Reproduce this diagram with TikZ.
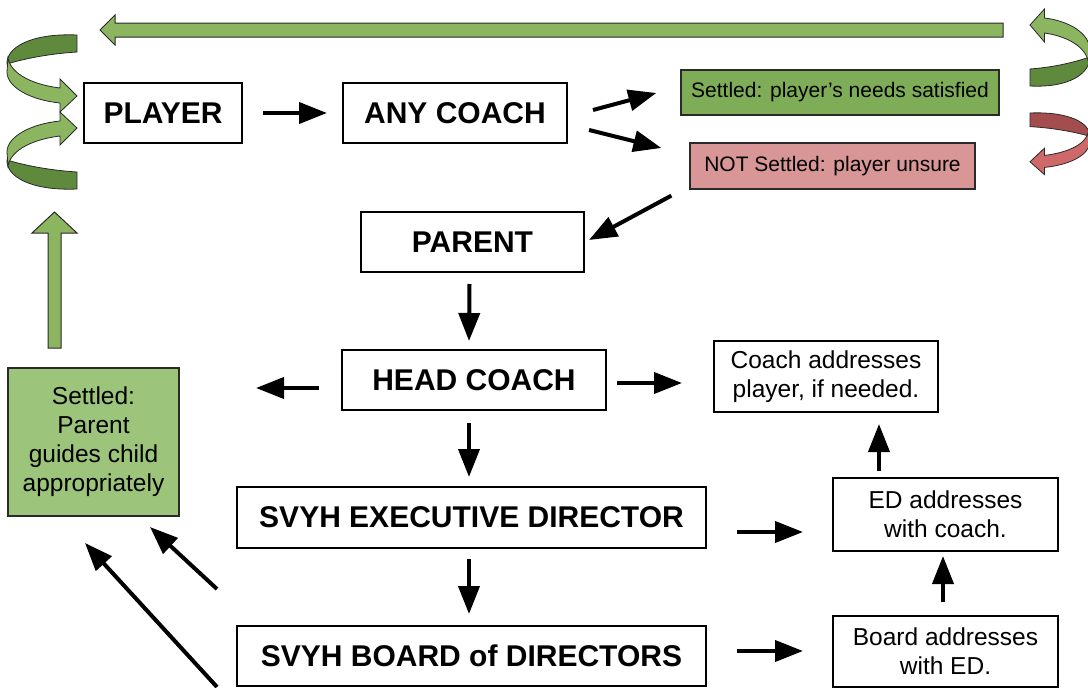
\documentclass[tikz,border=0pt]{standalone}
\usepackage{fontspec}
\setmainfont{Liberation Sans}
\usetikzlibrary{arrows.meta,calc}
\definecolor{boxgreen}{HTML}{7FAD57}
\definecolor{palegreen}{HTML}{9CC47A}
\definecolor{boxred}{HTML}{D99696}
\definecolor{arrlight}{HTML}{8BB55F}
\definecolor{arrdark}{HTML}{5F8A3D}
\definecolor{redlight}{HTML}{CF6868}
\definecolor{reddark}{HTML}{A34D4F}
\definecolor{outl}{HTML}{2A2A2A}
\newcommand{\curlshape}[2]{%
  \filldraw[fill=#1, draw=outl, line width=0.8pt] (0,0) .. controls (-47,-2) and (-71,13) .. (-70,29) .. controls (-57,25) and (-32,19) .. (0,17) -- cycle;
  \filldraw[fill=#2, draw=outl, line width=0.8pt] (-69,23) .. controls (-66,40) and (-42,50) .. (-17,53) -- (-17,44) -- (0,61) -- (-17,77) -- (-17,68) .. controls (-47,65) and (-70,52) .. (-70,37) -- cycle;
}
\tikzset{
  bigbox/.style={draw=black, line width=2pt, fill=white, inner sep=0pt, align=center, font=\fontsize{30}{34}\selectfont\bfseries},
  smallbox/.style={draw=black, line width=2pt, fill=white, inner sep=0pt, align=center, font=\fontsize{24.5}{29}\selectfont},
  tagbox/.style={draw=outl, line width=1.3pt, inner sep=0pt, align=center, font=\fontsize{21}{25}\selectfont},
  arr/.style={line width=4pt, -{Triangle[length=28pt,width=21pt]}},
  blockarrow/.style={fill=arrlight, draw=outl, line width=1pt},
}
\begin{document}
\begin{tikzpicture}[x=1pt,y=-1pt]
\useasboundingbox (0,0) rectangle (1088,688);
\fill[white] (0,0) rectangle (1088,688);

% nodes
\node[bigbox, minimum width=158pt, minimum height=60pt] (player) at (163,113) {PLAYER};
\node[bigbox, minimum width=224pt, minimum height=60pt] (anycoach) at (455,113) {ANY COACH};
\node[tagbox, fill=boxgreen, minimum width=318pt, minimum height=45pt] (settled) at (840,92.5) {Settled: player’s needs satisfied};
\node[tagbox, fill=boxred, minimum width=285pt, minimum height=46pt] (notsettled) at (832.5,166) {NOT Settled: player unsure};
\node[bigbox, minimum width=223pt, minimum height=60pt] (parent) at (472.5,242) {PARENT};
\node[bigbox, minimum width=264pt, minimum height=60pt] (headcoach) at (474,380) {HEAD COACH};
\node[bigbox, minimum width=469pt, minimum height=61pt] (exec) at (471.5,517.5) {SVYH EXECUTIVE DIRECTOR};
\node[bigbox, minimum width=469pt, minimum height=60pt] (board) at (471.5,656) {SVYH BOARD of DIRECTORS};
\node[smallbox, minimum width=224pt, minimum height=71pt] (coachaddr) at (826,376.5) {Coach addresses\\player, if needed.};
\node[smallbox, minimum width=225pt, minimum height=73pt] (edaddr) at (945.5,514.5) {ED addresses\\with coach.};
\node[smallbox, minimum width=225pt, minimum height=71pt] (boardaddr) at (945.5,651.5) {Board addresses\\with ED.};
\node[smallbox, draw=outl, fill=palegreen, minimum width=171pt, minimum height=148pt] (settledp) at (93.5,442) {Settled:\\Parent\\guides child\\appropriately};

% black arrows
\draw[arr] ($(player.east)+(20,0)$) -- ($(anycoach.west)+(-15,0)$);
\draw[arr] ($(anycoach.east)+(25,-3)$) -- ($(settled.west)+(-24,0.5)$);
\draw[arr] ($(anycoach.east)+(21,17)$) -- ($(notsettled.west)+(-28,-18)$);
\draw[arr] ($(notsettled.south west)+(-18,6)$) -- ($(parent.east)+(4,-2)$);
\draw[arr] ($(parent.south)+(-3,11)$) -- ($(headcoach.north)+(-5,-8)$);
\draw[arr] ($(headcoach.west)+(-22,8)$) -- ($(settledp.east)+(76,-54)$);
\draw[arr] ($(headcoach.east)+(10,3)$) -- ($(coachaddr.west)+(-31,6.5)$);
\draw[arr] ($(headcoach.south)+(-5,12)$) -- ($(exec.north)+(-2.5,-9)$);
\draw[arr] ($(exec.south)+(-2.5,10)$) -- ($(board.north)+(-2.5,-11)$);
\draw[arr] ($(exec.east)+(30,14.5)$) -- ($(edaddr.west)+(-29,17.5)$);
\draw[arr] ($(board.east)+(30,-5)$) -- ($(boardaddr.west)+(-29,-0.5)$);
\draw[arr] ($(boardaddr.north)+(-2.5,-13)$) -- ($(edaddr.south)+(-2.5,4)$);
\draw[arr] ($(edaddr.north)+(-66.5,-6)$) -- ($(coachaddr.south)+(53,11)$);
\draw[arr] ($(exec.west)+(-19,71.5)$) -- ($(settledp.south)+(56.5,10)$);
\draw[arr] ($(board.west)+(-19,31)$) -- ($(settledp.south)+(-8.5,26)$);

% green block arrows
\filldraw[blockarrow] (1003,23) -- (115,23) -- (115,15) -- (100,30) -- (115,45) -- (115,37) -- (1003,37) -- cycle;
\filldraw[blockarrow] (48,348) -- (48,233) -- (32,233) -- (54.5,212) -- (77,233) -- (61,233) -- (61,348) -- cycle;

% curved arrows
\begin{scope}[shift={(77,35)}]
  \curlshape{arrdark}{arrlight}
\end{scope}
\begin{scope}[shift={(77,189)}, yscale=-1]
  \curlshape{arrdark}{arrlight}
\end{scope}
\begin{scope}[shift={(1030,86)}, xscale=-0.85, yscale=-1]
  \curlshape{arrdark}{arrlight}
\end{scope}
\begin{scope}[shift={(1030,113)}, xscale=-0.85, yscale=0.8]
  \curlshape{reddark}{redlight}
\end{scope}
\end{tikzpicture}
\end{document}
